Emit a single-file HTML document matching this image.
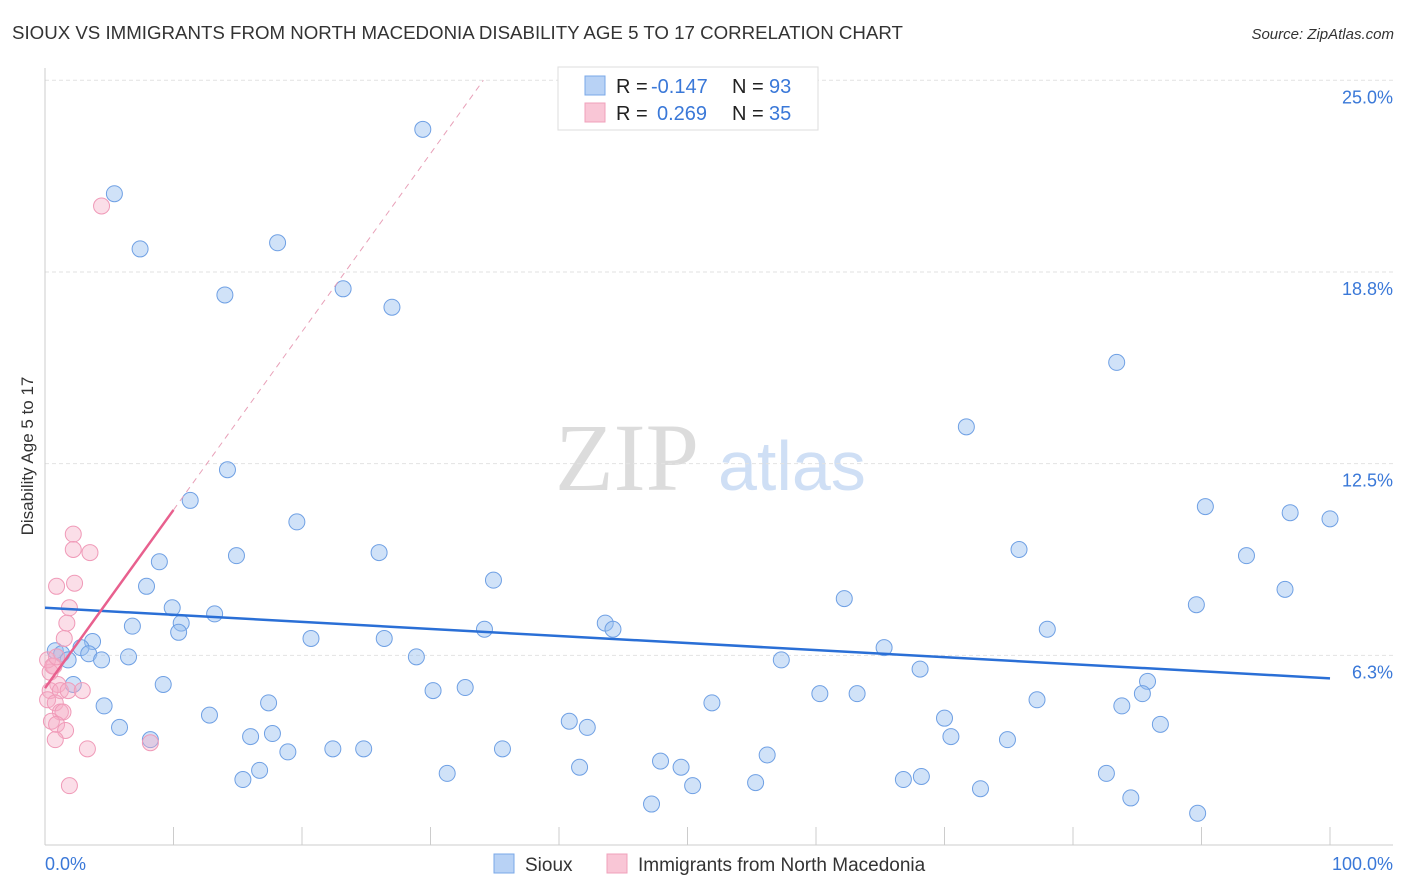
<!DOCTYPE html>
<html><head><meta charset="utf-8">
<style>
body{margin:0;background:#fff;font-family:"Liberation Sans",sans-serif;}
svg{display:block;}
</style></head>
<body>
<svg id="chart" width="1406" height="892" xmlns="http://www.w3.org/2000/svg">
<text x="12" y="39" font-size="18.7" fill="#333">SIOUX VS IMMIGRANTS FROM NORTH MACEDONIA DISABILITY AGE 5 TO 17 CORRELATION CHART</text>
<text x="1394" y="39" font-size="15" fill="#333" font-style="italic" text-anchor="end">Source: ZipAtlas.com</text>
<g>
<text x="555" y="490" font-size="96" fill="#dcdcdc" font-family="Liberation Serif, serif">ZIP</text>
<text x="718" y="490" font-size="70" fill="#cfdff5">atlas</text>
</g>
<g id="grid"></g>
<g id="axes"></g>
<g id="marks"></g>
<text transform="translate(33,456) rotate(-90)" font-size="17" fill="#333" text-anchor="middle">Disability Age 5 to 17</text>
<g>
<rect x="558" y="67" width="260" height="63" fill="#fff" stroke="#ddd"/>
<rect x="585" y="76" width="20" height="19" fill="#b8d2f5" stroke="#7aa8e8"/>
<rect x="585" y="103" width="20" height="19" fill="#f9c6d6" stroke="#f0a0bb"/>
<text x="616" y="93" font-size="20" fill="#222">R = <tspan fill="#3a78d8" x="651">-0.147</tspan></text>
<text x="732" y="93" font-size="20" fill="#222">N = <tspan fill="#3a78d8" x="769">93</tspan></text>
<text x="616" y="120" font-size="20" fill="#222">R = <tspan fill="#3a78d8" x="657">0.269</tspan></text>
<text x="732" y="120" font-size="20" fill="#222">N = <tspan fill="#3a78d8" x="769">35</tspan></text>
</g>
<g>
<rect x="494" y="854" width="20" height="19" fill="#b8d2f5" stroke="#7aa8e8"/>
<text x="525" y="871" font-size="19" fill="#333">Sioux</text>
<rect x="607" y="854" width="20" height="19" fill="#f9c6d6" stroke="#f0a0bb"/>
<text x="638" y="871" font-size="19" fill="#333">Immigrants from North Macedonia</text>
</g>
</svg>
<script>
const yTickValues=[6.25,12.5,18.75,25];
const yTickLabels=["6.3%","12.5%","18.8%","25.0%"];
const xTickLabels=["0.0%","100.0%"];
const siouxX=[5.4,7.4,14.0,18.1,23.2,27.0,29.4,83.4,71.7,14.2,11.3,19.6,14.9,26.0,8.9,7.9,34.9,9.9,13.2,10.6,6.8,10.4,20.7,26.4,34.2,43.6,44.2,3.7,2.8,0.8,1.3,1.8,3.4,4.4,6.5,28.9,57.3,62.2,65.3,68.1,75.8,78.0,90.3,96.9,100.0,93.5,96.5,89.6,2.2,9.2,17.4,4.6,12.8,30.2,32.7,51.9,60.3,63.2,77.2,85.8,85.4,83.8,70.0,86.8,5.8,8.2,16.0,17.7,18.9,22.4,24.8,35.6,40.8,42.2,70.5,74.9,56.2,15.4,16.7,31.3,41.6,47.9,49.5,50.4,55.3,66.8,68.2,72.8,82.6,84.5,47.2,89.7];
const siouxY=[21.3,19.5,18.0,19.7,18.2,17.6,23.4,15.8,13.7,12.3,11.3,10.6,9.5,9.6,9.3,8.5,8.7,7.8,7.6,7.3,7.2,7.0,6.8,6.8,7.1,7.3,7.1,6.7,6.5,6.4,6.3,6.1,6.3,6.1,6.2,6.2,6.1,8.1,6.5,5.8,9.7,7.1,11.1,10.9,10.7,9.5,8.4,7.9,5.3,5.3,4.7,4.6,4.3,5.1,5.2,4.7,5.0,5.0,4.8,5.4,5.0,4.6,4.2,4.0,3.9,3.5,3.6,3.7,3.1,3.2,3.2,3.2,4.1,3.9,3.6,3.5,3.0,2.2,2.5,2.4,2.6,2.8,2.6,2.0,2.1,2.2,2.3,1.9,2.4,1.6,1.4,1.1];
const macX=[4.4,2.2,2.2,3.5,0.9,2.3,1.9,1.7,1.5,0.7,0.4,1.0,0.4,1.2,1.8,2.9,0.2,0.8,1.2,1.4,0.5,0.9,1.6,0.8,3.3,8.2,1.9,0.2,0.6,0.9];
const macY=[20.9,10.2,9.7,9.6,8.5,8.6,7.8,7.3,6.8,5.9,5.7,5.3,5.1,5.1,5.1,5.1,4.8,4.7,4.4,4.4,4.1,4.0,3.8,3.5,3.2,3.4,2.0,6.1,5.9,6.2];
const siouxFit=[7.8,5.5];
const macFit=[5.18,10.99];
const NS="http://www.w3.org/2000/svg";
const xS=v=>45+v*12.85;
const yS=v=>847-v*30.67;
function mk(tag,attrs,parent){const e=document.createElementNS(NS,tag);for(const k in attrs)e.setAttribute(k,attrs[k]);parent.appendChild(e);return e;}
const grid=document.getElementById('grid'),axes=document.getElementById('axes'),marks=document.getElementById('marks');
yTickValues.forEach((v,i)=>{
 const l=mk('line',{x1:45,x2:1393,y1:yS(v),y2:yS(v),stroke:'#e2e2e2','stroke-dasharray':'4,3'},grid);
 
 
 const t=mk('text',{x:1393,y:yS(v)+23,'font-size':18,fill:'#3a78d8','text-anchor':'end'},axes);
 t.textContent=yTickLabels[i];
 
 
});
const ax=mk('line',{x1:45,x2:1393,y1:845,y2:845,stroke:'#ccc'},axes);


const ay=mk('line',{x1:45,x2:45,y1:68,y2:845,stroke:'#ccc'},axes);


for(let i=0;i<=10;i++){
 const t=mk('line',{x1:xS(i*10),x2:xS(i*10),y1:827,y2:845,stroke:'#ccc'},axes);
 
 
}
const xl0=mk('text',{x:45,y:870,'font-size':18,fill:'#3a78d8'},axes);xl0.textContent=xTickLabels[0];


const xl1=mk('text',{x:1393,y:870,'font-size':18,fill:'#3a78d8','text-anchor':'end'},axes);xl1.textContent=xTickLabels[1];


siouxX.forEach((x,i)=>{
 const c=mk('circle',{cx:xS(x),cy:yS(siouxY[i]),r:8,fill:'rgba(150,190,240,0.45)',stroke:'#6fa0e4','stroke-width':1},marks);
 
 
});
macX.forEach((x,i)=>{
 const c=mk('circle',{cx:xS(x),cy:yS(macY[i]),r:8,fill:'rgba(246,172,198,0.4)',stroke:'#f09ab8','stroke-width':1},marks);
 
 
});
const sl=mk('line',{x1:xS(0),y1:yS(siouxFit[0]),x2:xS(100),y2:yS(siouxFit[1]),stroke:'#2a6fd6','stroke-width':2.5},marks);


const slope=(macFit[1]-macFit[0])/10;
const xEnd=(25-macFit[0])/slope;
const md=mk('line',{x1:xS(10),y1:yS(macFit[1]),x2:xS(xEnd),y2:yS(25),stroke:'#e8a0b8','stroke-width':1,'stroke-dasharray':'6,5'},marks);


const ml=mk('line',{x1:xS(0),y1:yS(macFit[0]),x2:xS(10),y2:yS(macFit[1]),stroke:'#e8608e','stroke-width':2.5},marks);


</script>
</body></html>
